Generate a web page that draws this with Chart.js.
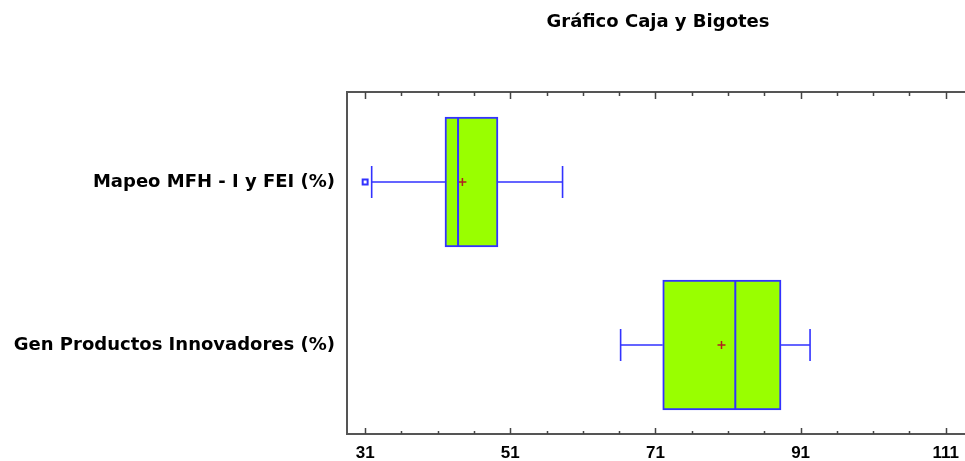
<!DOCTYPE html>
<html>
<head>
<meta charset="utf-8">
<script src="https://cdn.jsdelivr.net/npm/chart.js@4.4.1/dist/chart.umd.min.js"></script>
<style>
  html, body { margin: 0; padding: 0; background: #fff; overflow: hidden; }
  #wrap { width: 975px; height: 461px; }
</style>
</head>
<body>
<div id="wrap"><canvas id="chart-box"></canvas></div>
<script>
// ── data ───────────────────────────────────────────────
const categories = ["Mapeo MFH - I y FEI (%)", "Gen Productos Innovadores (%)"];
const whiskerLow = [31.9, 66.2];
const q1 = [42.0, 72.0];
const median = [43.8, 82.0];
const q3 = [49.3, 88.3];
const whiskerHigh = [58.2, 92.3];
const means = [44.4, 80.1];
const outliers = [[31.0], []];

const xLabels = [31, 51, 71, 91, 111];
const xTicks = [31, 36, 41, 46, 51, 56, 61, 66, 71, 76, 81, 86, 91, 96, 101, 106, 111];
// ───────────────────────────────────────────────────────

const BLUE = "#3232ff";
const FONT = "'DejaVu Sans', sans-serif";
const TICK_FONT = "'Liberation Sans', Arial, sans-serif";

const boxData = categories.map((c, i) => ({ x: [q1[i], q3[i]], y: i }));
const meanData = categories.map((c, i) => ({ x: means[i], y: i }));
const outlierData = [];
outliers.forEach((arr, i) => arr.forEach((v) => outlierData.push({ x: v, y: i })));

const ctx = document.getElementById("chart-box").getContext("2d");

new Chart(ctx, {
  type: "bar",
  data: {
    datasets: [
      {
        type: "bar",
        indexAxis: "y",
        data: boxData,
        backgroundColor: "#99ff00",
        borderColor: BLUE,
        borderWidth: 2,
        borderSkipped: false,
        barThickness: 130,
        order: 3,
      },
      {
        type: "scatter",
        data: meanData,
        pointStyle: "cross",
        pointRadius: 4,
        borderColor: "#b02020",
        borderWidth: 1.5,
        order: 1,
      },
      {
        type: "scatter",
        data: outlierData,
        pointStyle: "rect",
        pointRadius: 3.5,
        backgroundColor: "#fff",
        borderColor: BLUE,
        borderWidth: 2,
        order: 2,
      },
    ],
  },
  options: {
    responsive: true,
    maintainAspectRatio: false,
    animation: false,
    layout: { padding: { top: 92, right: 3, bottom: 0, left: 0 } },
    plugins: { legend: { display: false }, tooltip: { enabled: false } },
    scales: {
      x: {
        type: "linear",
        offset: false,
        min: 28.5,
        max: 114.2,
        grid: { display: false, drawTicks: false, offset: false },
        border: { display: false },
        afterBuildTicks: (scale) => {
          scale.ticks = xTicks.map((v) => ({ value: v }));
        },
        afterFit: (scale) => { scale.height = 27; },
        ticks: {
          autoSkip: false,
          maxRotation: 0,
          padding: 11,
          color: "#000",
          font: { family: TICK_FONT, size: 17, weight: "bold", lineHeight: 1 },
          callback: (v) => (xLabels.includes(v) ? String(v) : ""),
        },
      },
      y: {
        type: "linear",
        offset: false,
        reverse: true,
        min: -0.552,
        max: 1.546,
        grid: { display: false, drawTicks: false, offset: false },
        border: { display: false },
        afterBuildTicks: (scale) => {
          scale.ticks = categories.map((c, i) => ({ value: i }));
        },
        afterFit: (scale) => { scale.width = 347; },
        ticks: {
          padding: 12,
          color: "#000",
          font: { family: FONT, size: 18, weight: "bold" },
          callback: (v) => categories[v] ?? "",
        },
      },
    },
  },
  plugins: [
    {
      // рамка, засечки, усы, медианы, заголовок
      id: "boxExtras",
      afterDatasetsDraw(chart) {
        const { ctx, chartArea: a, scales: { x, y } } = chart;
        ctx.save();

        // усы и медиана
        ctx.strokeStyle = BLUE;
        categories.forEach((c, i) => {
          const cy = y.getPixelForValue(i);
          const half = 65;
          ctx.lineWidth = 1.6;
          ctx.beginPath();
          ctx.moveTo(x.getPixelForValue(whiskerLow[i]), cy);
          ctx.lineTo(x.getPixelForValue(q1[i]), cy);
          ctx.moveTo(x.getPixelForValue(q3[i]), cy);
          ctx.lineTo(x.getPixelForValue(whiskerHigh[i]), cy);
          ctx.moveTo(x.getPixelForValue(whiskerLow[i]), cy - 16);
          ctx.lineTo(x.getPixelForValue(whiskerLow[i]), cy + 16);
          ctx.moveTo(x.getPixelForValue(whiskerHigh[i]), cy - 16);
          ctx.lineTo(x.getPixelForValue(whiskerHigh[i]), cy + 16);
          ctx.stroke();
          ctx.lineWidth = 2;
          ctx.beginPath();
          ctx.moveTo(x.getPixelForValue(median[i]), cy - half);
          ctx.lineTo(x.getPixelForValue(median[i]), cy + half);
          ctx.stroke();
        });

        // рамка
        ctx.strokeStyle = "#555";
        ctx.lineWidth = 2;
        ctx.strokeRect(a.left, a.top, a.right - a.left, a.bottom - a.top);

        // засечки сверху и снизу (внутрь)
        ctx.lineWidth = 1.5;
        ctx.strokeStyle = "#444";
        ctx.beginPath();
        xTicks.forEach((v) => {
          const px = Math.round(x.getPixelForValue(v)) + 0.5;
          const major = xLabels.includes(v);
          ctx.moveTo(px, a.bottom);
          ctx.lineTo(px, a.bottom - (major ? 6 : 3));
          ctx.moveTo(px, a.top);
          ctx.lineTo(px, a.top + (major ? 7 : 4));
        });
        ctx.stroke();

        // заголовок
        ctx.fillStyle = "#000";
        ctx.font = "bold 18px " + FONT;
        ctx.textAlign = "center";
        ctx.textBaseline = "middle";
        ctx.fillText("Gráfico Caja y Bigotes", (a.left + a.right) / 2, 22);

        ctx.restore();
      },
    },
  ],
});
</script>
</body>
</html>
